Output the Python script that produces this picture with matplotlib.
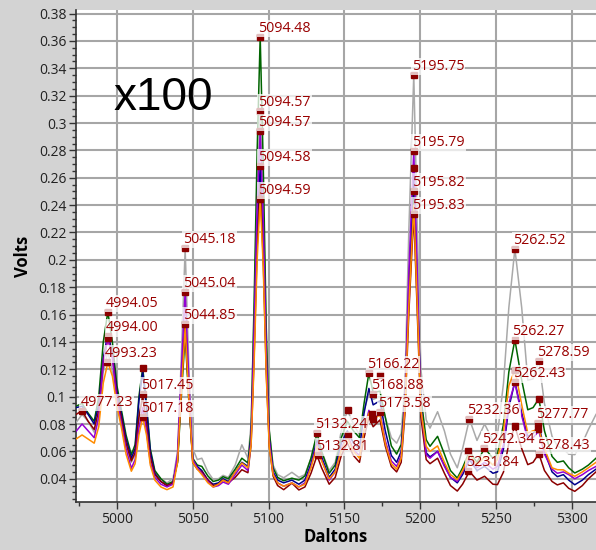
import matplotlib
matplotlib.use('Agg')
import matplotlib.pyplot as plt
from matplotlib.ticker import MultipleLocator, FuncFormatter

# mass axis (Daltons), shared by all six traces
daltons = [4973, 4977, 4981, 4985, 4988, 4991, 4994, 4997, 5000, 5003,
           5006, 5009.5, 5012, 5014.5, 5017, 5019.5, 5022, 5025, 5029, 5033,
           5037, 5040, 5042.5, 5045, 5047.5, 5050, 5053, 5056, 5060, 5063.5,
           5067, 5070, 5073.5, 5078, 5082.4, 5086.4, 5088.5, 5090.5, 5092.5, 5094.5,
           5096.5, 5098.5, 5100.5, 5103, 5106, 5110, 5115.4, 5120, 5124, 5128,
           5132, 5135, 5140, 5144, 5148, 5152, 5156, 5160, 5163, 5166.2,
           5169, 5173.5, 5177, 5181, 5184.5, 5187.5, 5190, 5192.5, 5195.8, 5198,
           5200.5, 5204, 5206.5, 5211.5, 5216, 5220, 5224.5, 5228, 5232.5, 5237.5,
           5242.5, 5248, 5251, 5255, 5258.5, 5262.5, 5267, 5271, 5274.5, 5278.3,
           5282, 5287, 5290.5, 5294.5, 5298, 5302, 5307, 5311, 5316]

gray = [.081, .087, .082, .074, .085, .118, .133, .118, .098, .082,
        .065, .052, .058, .085, .102, .082, .058, .045, .040, .037,
        .040, .060, .130, .208, .120, .062, .054, .055, .045, .0394,
        .040, .0425, .041, .050, .0648, .055, .080, .160, .250, .309,
        .240, .140, .075, .050, .043, .0407, .0447, .041, .043, .055,
        .071, .060, .046, .052, .075, .090, .080, .072, .090, .102,
        .098, .100, .085, .070, .066, .073, .110, .220, .335, .230,
        .120, .083, .077, .089, .075, .058, .048, .062, .0836, .068,
        .080, .068, .072, .110, .165, .208, .165, .112, .113, .1262,
        .095, .071, .064, .0615, .058, .0576, .066, .076, .087]

green = [.093, .095, .088, .082, .100, .140, .162, .140, .108, .090,
         .072, .0575, .065, .100, .121, .095, .062, .046, .040, .036,
         .038, .052, .100, .145, .095, .055, .050, .049, .042, .038,
         .039, .0415, .040, .047, .055, .0515, .075, .170, .280, .363,
         .270, .150, .075, .048, .041, .0385, .0404, .039, .042, .055,
         .0734, .060, .044, .050, .070, .082, .075, .070, .095, .1174,
         .103, .104, .085, .064, .058, .065, .100, .170, .251, .180,
         .100, .0685, .0637, .071, .058, .046, .0405, .048, .060, .052,
         .0624, .055, .058, .080, .118, .1416, .112, .0904, .092, .0985,
         .075, .0563, .052, .053, .048, .0442, .047, .050, .055]

navy = [.092, .093, .087, .080, .094, .128, .146, .132, .104, .087,
        .069, .055, .062, .097, .118, .092, .060, .044, .038, .035,
        .037, .054, .110, .155, .100, .053, .049, .046, .039, .036,
        .037, .040, .038, .045, .052, .049, .070, .140, .220, .269,
        .210, .125, .068, .045, .039, .037, .039, .036, .039, .051,
        .068, .056, .041, .047, .066, .075, .066, .062, .088, .106,
        .094, .097, .075, .057, .052, .060, .095, .180, .267, .185,
        .092, .059, .056, .060, .050, .041, .037, .043, .054, .046,
        .049, .044, .045, .062, .092, .111, .088, .071, .073, .0795,
        .060, .045, .0415, .043, .039, .0356, .039, .043, .047]

darkred = [.087, .0897, .082, .076, .090, .125, .143, .130, .100, .084,
           .066, .053, .059, .085, .100, .080, .056, .043, .038, .035,
           .037, .053, .108, .153, .098, .052, .047, .045, .039, .035,
           .036, .039, .037, .041, .0466, .0444, .065, .130, .210, .255,
           .200, .118, .064, .042, .035, .032, .0368, .0318, .034, .044,
           .057, .048, .036, .041, .057, .066, .057, .052, .070, .085,
           .078, .083, .064, .049, .045, .052, .088, .160, .234, .165,
           .085, .054, .051, .055, .044, .035, .031, .036, .0454, .039,
           .0418, .036, .0357, .045, .066, .0783, .062, .0503, .052, .0583,
           .046, .038, .0355, .037, .033, .0308, .035, .040, .045]

purple = [.0746, .080, .075, .070, .085, .125, .143, .128, .097, .080,
          .062, .0476, .054, .077, .092, .075, .052, .041, .036, .034,
          .036, .058, .120, .177, .110, .054, .048, .044, .038, .034,
          .035, .0376, .036, .043, .050, .046, .068, .150, .240, .294,
          .230, .132, .068, .044, .037, .0345, .037, .034, .037, .049,
          .066, .054, .039, .045, .062, .072, .061, .057, .075, .090,
          .082, .0888, .068, .053, .049, .057, .098, .190, .280, .195,
          .092, .0576, .055, .060, .049, .041, .038, .045, .055, .048,
          .052, .047, .049, .065, .095, .1104, .086, .0685, .070, .075,
          .058, .047, .044, .045, .043, .040, .043, .046, .049]

orange = [.069, .072, .069, .066, .078, .110, .125, .115, .093, .077,
          .058, .0455, .051, .072, .085, .072, .050, .039, .034, .032,
          .034, .052, .105, .150, .098, .052, .047, .043, .037, .034,
          .036, .039, .037, .045, .0515, .048, .065, .125, .200, .245,
          .195, .115, .063, .043, .037, .0345, .037, .034, .036, .048,
          .064, .053, .040, .045, .061, .070, .060, .055, .075, .088,
          .083, .087, .066, .051, .047, .055, .092, .165, .240, .170,
          .090, .0637, .060, .064, .052, .043, .0393, .046, .058, .050,
          .056, .050, .054, .075, .108, .1197, .094, .0734, .075, .076,
          .062, .048, .0466, .0465, .044, .0418, .045, .048, .052]

# labelled peaks: text, position, height
peak_labels = ["4977.23", "4994.05", "4994.00", "4993.23", "5017.45", "5017.18",
               "5045.18", "5045.04", "5044.85", "5094.48", "5094.57", "5094.57",
               "5094.58", "5094.59", "5132.24", "5132.81", "5166.22", "5168.88",
               "5173.58", "5195.75", "5195.79", "5195.82", "5195.83", "5232.36",
               "5242.34", "5231.84", "5262.52", "5262.27", "5262.43", "5278.59",
               "5277.77", "5278.43"]
peak_x = [4977.23, 4994.05, 4994.00, 4993.23, 5017.45, 5017.18,
          5045.18, 5045.04, 5044.85, 5094.48, 5094.57, 5094.57,
          5094.58, 5094.59, 5132.24, 5132.81, 5166.22, 5168.88,
          5173.58, 5195.75, 5195.79, 5195.82, 5195.83, 5232.36,
          5242.34, 5231.84, 5262.52, 5262.27, 5262.43, 5278.59,
          5277.77, 5278.43]
peak_y = [0.0897, 0.162, 0.144, 0.125, 0.102, 0.085,
          0.2085, 0.1766, 0.153, 0.363, 0.309, 0.294,
          0.2687, 0.2446, 0.0734, 0.057, 0.1174, 0.1017,
          0.0888, 0.3352, 0.2796, 0.2506, 0.2336, 0.0836,
          0.0624, 0.0454, 0.208, 0.1416, 0.1104, 0.1262,
          0.0805, 0.0583]

# peaks that got a marker but whose label is hidden
hidden_x = [4994.3, 5017.1, 5152.3, 5152.6, 5168.5, 5169.0, 5173.6,
            5195.8, 5262.3, 5262.6, 5278.3, 5277.9, 5231.8]
hidden_y = [0.143, 0.121, 0.090, 0.072, 0.087, 0.0834, 0.1157,
            0.267, 0.1197, 0.0783, 0.0985, 0.076, 0.060]

bg = '#d3d3d3'
fig = plt.figure(figsize=(5.96, 5.5), dpi=100, facecolor=bg)
ax = fig.add_axes([76 / 596, 48 / 550, 520 / 596, 492 / 550])

traces = [(gray, '#a9a9a9'), (green, '#006400'), (navy, '#00008b'),
          (darkred, '#8b0000'), (purple, '#9400d3'), (orange, '#ff8c00')]
for vals, col in traces:
    ax.plot(daltons, vals, color=col, lw=1.1, zorder=3)

ax.plot(hidden_x, hidden_y, 's', color='#8b0000', ms=4, zorder=4)
ax.plot(peak_x, peak_y, 's', color='#8b0000', ms=4, zorder=4)

for txt, px, py in zip(peak_labels, peak_x, peak_y):
    ax.annotate(txt, (px, py), xytext=(-2, 5), textcoords='offset pixels',
                ha='left', va='baseline', color='#990000', fontsize=10.3,
                family='Open Sans', zorder=5,
                bbox=dict(boxstyle='square,pad=0.08', fc='white', ec='none', alpha=0.75))

ax.text(5030.5, 0.318, 'x100', fontsize=33, family='Liberation Sans',
        ha='center', va='center', color='black')

ax.set_xlim(4973, 5316)
ax.set_ylim(0.023, 0.3826)

ax.xaxis.set_major_locator(MultipleLocator(50))
ax.xaxis.set_minor_locator(MultipleLocator(25))
ax.yaxis.set_major_locator(MultipleLocator(0.02))
ax.yaxis.set_minor_locator(MultipleLocator(0.005))
ax.yaxis.set_major_formatter(FuncFormatter(lambda v, p: f'{v:.2f}'.rstrip('0').rstrip('.')))

ax.grid(True, which='major', color='#a6a6a6', lw=1.5, zorder=0)
ax.set_axisbelow(True)
for s in ['top', 'right']:
    ax.spines[s].set_visible(False)
for s in ['left', 'bottom']:
    ax.spines[s].set_color('#333333')
    ax.spines[s].set_linewidth(1.2)

ax.tick_params(which='major', direction='out', length=5, width=1, colors='#333333',
               labelsize=10, labelcolor='#222222', pad=2)
ax.tick_params(which='minor', direction='out', length=3, width=1, colors='#333333')
for lab in ax.get_xticklabels() + ax.get_yticklabels():
    lab.set_family('Open Sans')

ax.set_xlabel('Daltons', fontsize=12, fontweight='bold', family='Open Sans', labelpad=1)
ax.set_ylabel('Volts', fontsize=12, fontweight='bold', family='Open Sans', labelpad=5)

fig.savefig('out.png', dpi=100, facecolor=bg)
